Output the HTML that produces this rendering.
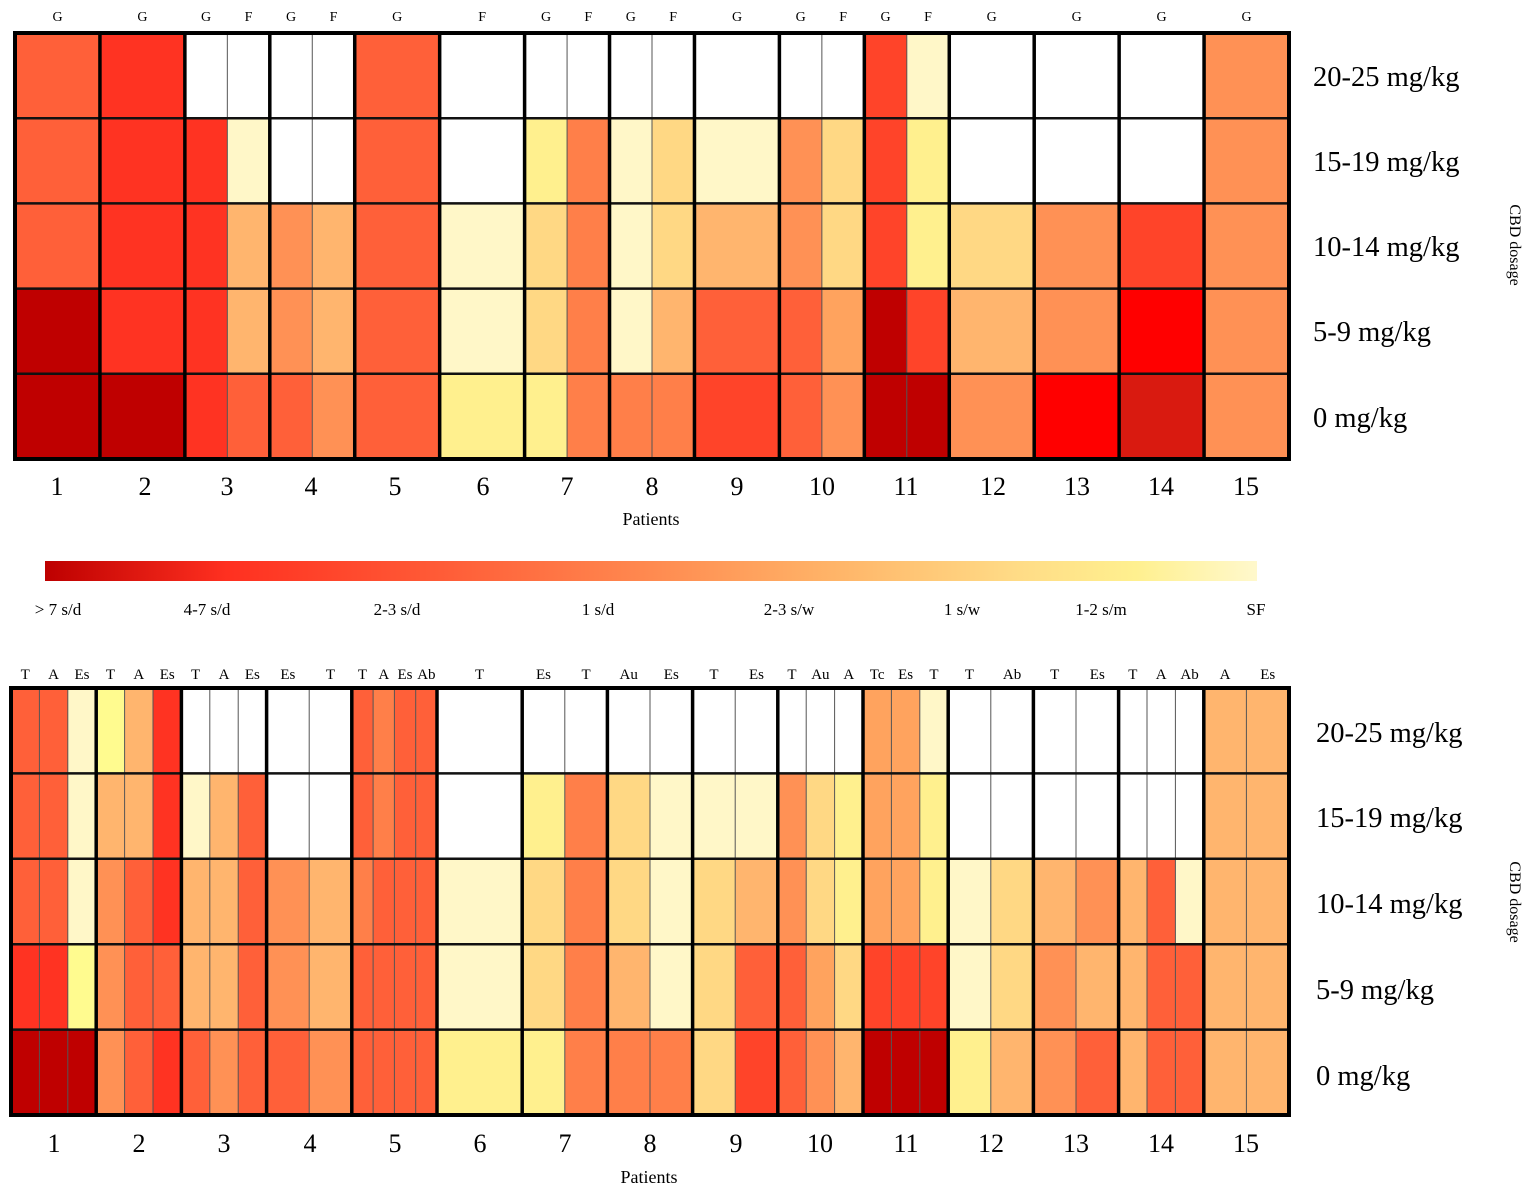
<!DOCTYPE html>
<html><head><meta charset="utf-8"><style>
html,body{margin:0;padding:0;background:#fff;}
svg{display:block;font-family:"Liberation Serif",serif;}
</style></head><body>
<svg id="s" width="1535" height="1194" viewBox="0 0 1535 1194" xmlns="http://www.w3.org/2000/svg">
<defs><linearGradient id="cb" x1="0" x2="1" y1="0" y2="0">
<stop offset="0" stop-color="#bd0000"/><stop offset="0.15" stop-color="#ff3020"/><stop offset="0.32" stop-color="#ff5a36"/>
<stop offset="0.5" stop-color="#ff8a50"/><stop offset="0.65" stop-color="#ffb468"/><stop offset="0.8" stop-color="#ffdb86"/>
<stop offset="0.9" stop-color="#fff08f"/><stop offset="1" stop-color="#fff8cc"/></linearGradient></defs>
<g id="cells"></g>
<rect x="45" y="561" width="1212" height="20" fill="url(#cb)"/>
<g font-size="14" text-anchor="middle">
<text x="57.5" y="21">G</text><text x="142.4" y="21">G</text>
<text x="206" y="21">G</text><text x="248.5" y="21">F</text>
<text x="291" y="21">G</text><text x="333.5" y="21">F</text>
<text x="397.2" y="21">G</text><text x="482.1" y="21">F</text>
<text x="546" y="21">G</text><text x="588.3" y="21">F</text>
<text x="630.8" y="21">G</text><text x="673.2" y="21">F</text>
<text x="737" y="21">G</text>
<text x="800.7" y="21">G</text><text x="843.1" y="21">F</text>
<text x="885.6" y="21">G</text><text x="928" y="21">F</text>
<text x="991.7" y="21">G</text><text x="1076.7" y="21">G</text><text x="1161.6" y="21">G</text><text x="1246.5" y="21">G</text>
</g>
<g font-size="15" text-anchor="middle">
<text x="25.2" y="679">T</text><text x="53.6" y="679">A</text><text x="82" y="679">Es</text>
<text x="110.4" y="679">T</text><text x="138.8" y="679">A</text><text x="167.2" y="679">Es</text>
<text x="195.6" y="679">T</text><text x="224" y="679">A</text><text x="252.4" y="679">Es</text>
<text x="287.9" y="679">Es</text><text x="330.5" y="679">T</text>
<text x="362.5" y="679">T</text><text x="383.8" y="679">A</text><text x="405" y="679">Es</text><text x="426.4" y="679">Ab</text>
<text x="479.6" y="679">T</text>
<text x="543.5" y="679">Es</text><text x="586.1" y="679">T</text>
<text x="628.7" y="679">Au</text><text x="671.3" y="679">Es</text>
<text x="713.9" y="679">T</text><text x="756.5" y="679">Es</text>
<text x="792" y="679">T</text><text x="820.4" y="679">Au</text><text x="848.8" y="679">A</text>
<text x="877.2" y="679">Tc</text><text x="905.6" y="679">Es</text><text x="934" y="679">T</text>
<text x="969.5" y="679">T</text><text x="1012.1" y="679">Ab</text>
<text x="1054.7" y="679">T</text><text x="1097.3" y="679">Es</text>
<text x="1132.8" y="679">T</text><text x="1161.2" y="679">A</text><text x="1189.6" y="679">Ab</text>
<text x="1225.1" y="679">A</text><text x="1267.7" y="679">Es</text>
</g>
<g font-size="26" text-anchor="middle">
<text x="57" y="495">1</text><text x="145" y="495">2</text><text x="227" y="495">3</text><text x="311" y="495">4</text><text x="395" y="495">5</text><text x="483" y="495">6</text><text x="567" y="495">7</text><text x="652" y="495">8</text><text x="737" y="495">9</text><text x="822" y="495">10</text><text x="906" y="495">11</text><text x="993" y="495">12</text><text x="1077" y="495">13</text><text x="1161" y="495">14</text><text x="1246" y="495">15</text>
<text x="54" y="1152">1</text><text x="139" y="1152">2</text><text x="224" y="1152">3</text><text x="310" y="1152">4</text><text x="395" y="1152">5</text><text x="480" y="1152">6</text><text x="565" y="1152">7</text><text x="650" y="1152">8</text><text x="736" y="1152">9</text><text x="820" y="1152">10</text><text x="906" y="1152">11</text><text x="991" y="1152">12</text><text x="1076" y="1152">13</text><text x="1161" y="1152">14</text><text x="1246" y="1152">15</text>
</g>
<g font-size="18" text-anchor="middle"><text x="651" y="525">Patients</text><text x="649" y="1183">Patients</text></g>
<g font-size="28.5">
<text x="1313" y="86">20-25 mg/kg</text><text x="1313" y="171">15-19 mg/kg</text><text x="1313" y="256">10-14 mg/kg</text><text x="1313" y="341">5-9 mg/kg</text><text x="1313" y="427">0 mg/kg</text>
<text x="1316" y="742">20-25 mg/kg</text><text x="1316" y="827">15-19 mg/kg</text><text x="1316" y="913">10-14 mg/kg</text><text x="1316" y="999">5-9 mg/kg</text><text x="1316" y="1085">0 mg/kg</text>
</g>
<g font-size="16" text-anchor="middle">
<text transform="translate(1510,245) rotate(90)">CBD dosage</text>
<text transform="translate(1510,902) rotate(90)">CBD dosage</text>
</g>
<g font-size="17" text-anchor="middle">
<text x="58" y="615">&gt; 7 s/d</text><text x="207" y="615">4-7 s/d</text><text x="397" y="615">2-3 s/d</text><text x="598" y="615">1 s/d</text><text x="789" y="615">2-3 s/w</text><text x="962" y="615">1 s/w</text><text x="1101" y="615">1-2 s/m</text><text x="1256" y="615">SF</text>
</g>
</svg>
<script>
(function(){
var C={W:"#ffffff",dk:"#bf0000",r:"#ff3322",r2:"#ff4429",R:"#ff0000",d2:"#d91a10",o1:"#ff6039",o3:"#ff7f49",o2:"#ff9155",o4:"#ffa35e",lo:"#ffb56e",ly:"#ffd884",yel:"#fff08e",y2:"#fffb8f",pa:"#fff7c8"};
var tdat=[
[["o1","o1","o1","dk","dk"]],
[["r","r","r","r","dk"]],
[["W","r","r","r","r"],["W","pa","lo","lo","o1"]],
[["W","W","o2","o2","o1"],["W","W","lo","lo","o2"]],
[["o1","o1","o1","o1","o1"]],
[["W","W","pa","pa","yel"]],
[["W","yel","ly","ly","yel"],["W","o3","o3","o3","o3"]],
[["W","pa","pa","pa","o3"],["W","ly","ly","lo","o3"]],
[["W","pa","lo","o1","r2"]],
[["W","o2","o2","o1","o1"],["W","ly","ly","o4","o2"]],
[["r2","r2","r2","dk","dk"],["pa","yel","yel","r2","dk"]],
[["W","W","ly","lo","o2"]],
[["W","W","o2","o2","R"]],
[["W","W","r2","R","d2"]],
[["o2","o2","o2","o2","o2"]]];
var bdat=[
[["o1","o1","o1","r","dk"],["o1","o1","o1","r","dk"],["pa","pa","pa","y2","dk"]],
[["y2","lo","o2","o2","o2"],["lo","lo","o1","o1","o1"],["r","r","r","o1","r"]],
[["W","pa","lo","lo","o1"],["W","lo","lo","lo","o2"],["W","o1","o1","o1","o1"]],
[["W","W","o2","o2","o1"],["W","W","lo","lo","o2"]],
[["o1","o1","o3","o1","o1"],["o3","o3","o1","o1","o1"],["o1","o1","o1","o1","o1"],["o1","o1","o1","o1","o1"]],
[["W","W","pa","pa","yel"]],
[["W","yel","ly","ly","yel"],["W","o3","o3","o3","o3"]],
[["W","ly","ly","lo","o3"],["W","pa","pa","pa","o3"]],
[["W","pa","ly","ly","ly"],["W","pa","lo","o1","r2"]],
[["W","o2","o2","o1","o1"],["W","ly","ly","o4","o2"],["W","yel","yel","ly","lo"]],
[["o4","o4","o4","r2","dk"],["o4","o4","o4","r2","dk"],["pa","yel","yel","r2","dk"]],
[["W","W","pa","pa","yel"],["W","W","ly","ly","lo"]],
[["W","W","lo","o2","o2"],["W","W","o2","lo","o1"]],
[["W","W","lo","lo","lo"],["W","W","o1","o1","o1"],["W","W","pa","o1","o1"]],
[["lo","lo","lo","lo","lo"],["lo","lo","lo","lo","lo"]]];
var NS="http://www.w3.org/2000/svg",g=document.getElementById("cells");
function el(n,a){var e=document.createElementNS(NS,n);for(var k in a)e.setAttribute(k,a[k]);g.appendChild(e);}
function draw(data,x0,x1,y0,y1){
 var pw=(x1-x0)/15,rh=(y1-y0)/5;
 data.forEach(function(p,i){
  var px=x0+i*pw,sw=pw/p.length;
  p.forEach(function(col,j){
   col.forEach(function(c,k){
    el("rect",{x:px+j*sw,y:y0+k*rh,width:sw+0.5,height:rh+0.5,fill:C[c]});
   });
  });
  for(var j=1;j<p.length;j++) el("line",{x1:px+j*sw,x2:px+j*sw,y1:y0,y2:y1,stroke:"#555","stroke-width":1});
 });
 for(var k=1;k<5;k++) el("line",{x1:x0,x2:x1,y1:y0+k*rh,y2:y0+k*rh,stroke:"#111","stroke-width":2.5});
 for(var i=1;i<15;i++) el("line",{x1:x0+i*pw,x2:x0+i*pw,y1:y0,y2:y1,stroke:"#000","stroke-width":3.5});
 el("rect",{x:x0,y:y0,width:x1-x0,height:y1-y0,fill:"none",stroke:"#000","stroke-width":4});
}
draw(tdat,15,1289,33,459);
draw(bdat,11,1289,688,1115);
})();
</script>
</body></html>
